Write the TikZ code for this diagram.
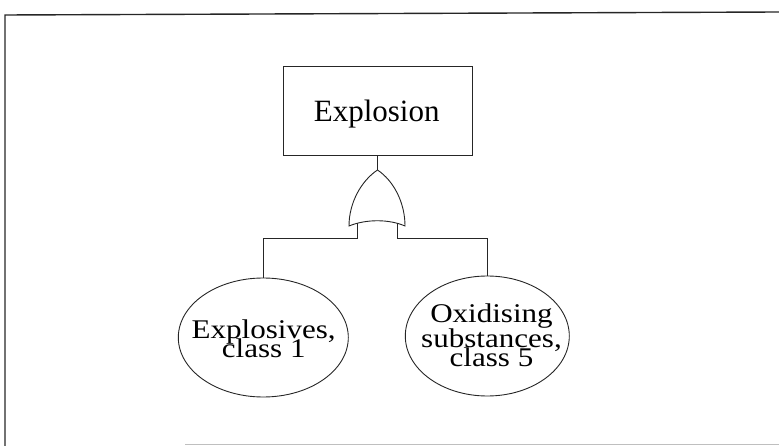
\documentclass[tikz,border=0pt]{standalone}
\usepackage{fontspec}
\setmainfont{Liberation Serif}
\newfontfamily\wideserif[FakeStretch=1.15]{Liberation Serif}
\newcommand\mytightlines{\lineskiplimit=-100pt\relax}
\usetikzlibrary{shapes.geometric}
\begin{document}
\begin{tikzpicture}[x=1pt,y=-1pt,
  thinline/.style={line width=0.9pt,draw=black!85},
  evt/.style={thinline,ellipse,minimum width=170pt,minimum height=119pt,inner sep=0pt},
  lbl/.style={font=\wideserif\fontsize{27}{19}\selectfont\mytightlines,align=center,anchor=base,inner sep=0pt},
  connector/.style={thinline}]
\useasboundingbox (0,0) rectangle (779,446);
% frame
\coordinate (ftl) at (5,15);
\coordinate (ftr) at (779,12);
\coordinate (fbl) at (5,446);
\coordinate (fb1) at (185,444.5);
\coordinate (fb2) at (779,444.5);
\draw[line width=1.4pt,black!85] (fbl) -- (ftl) -- (ftr);
\draw[line width=0.8pt,black!25] (fb1) -- (fb2);
% top event
\node[thinline,draw,minimum width=189pt,minimum height=89pt,inner sep=0pt] (top) at (377.5,110.5) {};
\node[font=\fontsize{31}{31}\selectfont,anchor=base,inner sep=0pt] (toplbl) at (376.7,121.7) {Explosion};
% OR gate
\coordinate (gtop) at (377.5,170);
\coordinate (gl) at (349,226);
\coordinate (gr) at (405,226);
\draw[thinline,fill=white] (gtop) .. controls (361,181) and (349,203) .. (gl)
  .. controls (366,219) and (389,219) .. (gr)
  .. controls (405,203) and (394,181) .. (gtop) -- cycle;
\draw[connector] (top.south) -- (gtop);
% basic events
\node[evt,draw] (e1) at (263.3,337.5) {};
\node[evt,draw,minimum width=164pt,minimum height=120pt] (e2) at (487.3,336) {};
\node[lbl] (e1lbl) at (263.7,357) {Explosives,\\class 1};
\node[lbl] (e2lbl) at (491.5,366.7) {Oxidising\\[6pt]substances,\\class 5};
% connectors
\coordinate (legl) at (357.3,223.5);
\coordinate (legr) at (397.5,223.5);
\draw[connector] (legl) -- (357.3,238.3) -| (e1.north);
\draw[connector] (legr) -- (397.5,238.3) -| (e2.north);
\end{tikzpicture}
\end{document}
